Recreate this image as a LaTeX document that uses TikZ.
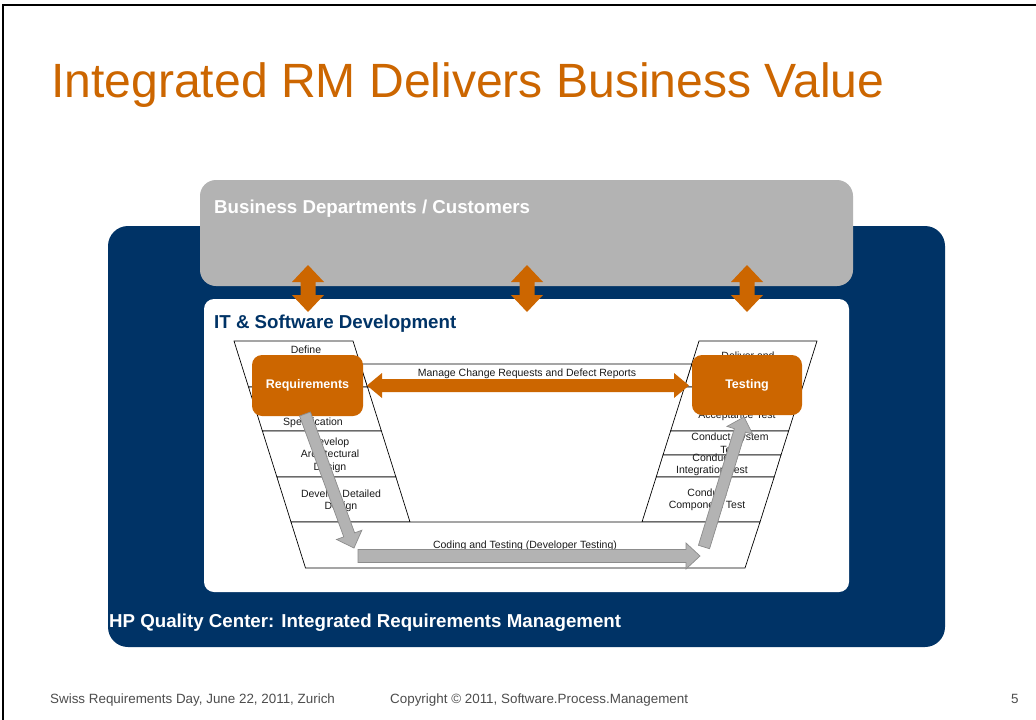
\documentclass[tikz,border=0pt]{standalone}
\usepackage{fontspec}
\setmainfont{Liberation Sans}
\usetikzlibrary{calc}
\definecolor{hporange}{HTML}{CC6600}
\definecolor{navy}{HTML}{003366}
\definecolor{lgray}{HTML}{B3B3B3}
\definecolor{dgray}{HTML}{8C8C8C}
\definecolor{foot}{HTML}{4D4D4D}
\definecolor{ink}{HTML}{1A1A1A}
\newcommand\fatarrow[6]{% style, A, B, w, h, L
  \coordinate (fa-h) at ($(#3)!#6!(#2)$);
  \draw[#1] ($(#2)!#4!90:(#3)$) -- ($(fa-h)!#4!90:(#3)$) -- ($(fa-h)!#5!90:(#3)$)
    -- (#3) -- ($(fa-h)!#5!-90:(#3)$) -- ($(fa-h)!#4!-90:(#3)$) -- ($(#2)!#4!-90:(#3)$) -- cycle;}
\newcommand\dblfatarrow[6]{% style, A, B, w, h, L
  \coordinate (fa-h1) at ($(#3)!#6!(#2)$);
  \coordinate (fa-h2) at ($(#2)!#6!(#3)$);
  \draw[#1] (#2) -- ($(fa-h2)!#5!-90:(#3)$) -- ($(fa-h2)!#4!-90:(#3)$) -- ($(fa-h1)!#4!90:(#2)$)
    -- ($(fa-h1)!#5!90:(#2)$) -- (#3) -- ($(fa-h1)!#5!-90:(#2)$) -- ($(fa-h1)!#4!-90:(#2)$)
    -- ($(fa-h2)!#4!90:(#3)$) -- ($(fa-h2)!#5!90:(#3)$) -- cycle;}
\begin{document}
\begin{tikzpicture}[x=1pt,y=-1pt,
  panel/.style={inner sep=0pt, draw=none},
  headlabel/.style={anchor=west, inner sep=0pt, font=\bfseries\fontsize{18.7}{21}\selectfont},
  rowbox/.style={draw=black, fill=white, line width=0.7pt},
  small/.style={align=center, inner sep=0pt, text=ink, font=\fontsize{10.5}{12.5}\selectfont},
  orangebox/.style={fill=hporange, draw=none, rounded corners=10pt, minimum width=111pt, minimum height=61pt, text=white, font=\bfseries\fontsize{12.5}{14}\selectfont},
  orangearrow/.style={fill=hporange, draw=none},
  grayarrow/.style={fill=lgray, draw=dgray, line width=0.7pt},
  footer/.style={anchor=base west, inner sep=0pt, text=foot, font=\fontsize{13.4}{15}\selectfont}]
\useasboundingbox (0,0) rectangle (1036,720);
\fill[white] (0,0) rectangle (1036,720);
% frame
\draw[line width=2pt] (1036,5) -- (3,5) -- (3,720);
% title
\node[anchor=base west, inner sep=0pt, text=hporange, font=\fontsize{48.1}{52}\selectfont] (title) at (51,97) {Integrated RM Delivers Business Value};
% panels
\node[panel, fill=navy, minimum width=837pt, minimum height=421pt, rounded corners=20pt] (qc) at (526.5,436.5) {};
\node[panel, fill=lgray, minimum width=653pt, minimum height=106pt, rounded corners=16pt] (biz) at (526.5,233) {};
\node[panel, fill=white, minimum width=645pt, minimum height=293pt, rounded corners=10pt] (it) at (526.5,445.5) {};
\node[headlabel, text=white] (bizlabel) at (214,209) {Business Departments / Customers};
\node[headlabel, text=navy] (itlabel) at (214,324) {IT \& Software Development};
\node[headlabel, text=white] (qclabel) at (109,623) {HP Quality Center: Integrated Requirements Management};
% vertical double arrows
\foreach \cx/\nm in {308/a,527/b,747/c}{
  \coordinate (v\nm1) at (\cx,265);
  \coordinate (v\nm2) at (\cx,312);
  \dblfatarrow{orangearrow}{v\nm1}{v\nm2}{7.5pt}{16pt}{17pt}
}
% left stack
\draw[rowbox] (234,341) -- (353,341) -- (367.5,387) -- (248.5,387) -- cycle;
\draw[rowbox] (248.5,387) -- (367.5,387) -- (381.4,431) -- (262.4,431) -- cycle;
\draw[rowbox] (262.4,431) -- (381.4,431) -- (395.9,477) -- (276.9,477) -- cycle;
\draw[rowbox] (276.9,477) -- (395.9,477) -- (410,522) -- (291,522) -- cycle;
% right stack
\draw[rowbox] (699,341) -- (817,341) -- (802.5,387) -- (684.5,387) -- cycle;
\draw[rowbox] (684.5,387) -- (802.5,387) -- (788.6,431) -- (670.6,431) -- cycle;
\draw[rowbox] (670.6,431) -- (788.6,431) -- (781,455) -- (663,455) -- cycle;
\draw[rowbox] (663,455) -- (781,455) -- (774.2,477) -- (656.2,477) -- cycle;
\draw[rowbox] (656.2,477) -- (774.2,477) -- (760,522) -- (642,522) -- cycle;
% coding box and manage box
\draw[rowbox] (291,522) -- (760,522) -- (745,568) -- (305.5,568) -- cycle;
\draw[rowbox] (360.2,364) -- (691.8,364) -- (684.5,387) -- (367.5,387) -- cycle;
% row texts
\node[small] (t1) at (306,357) {Define\\Requirements};
\node[small] (t2) at (313,417) {Requirements\\Specification};
\node[small] (t3) at (330,455) {Develop\\Architectural\\Design};
\node[small] (t4) at (341,501) {Develop Detailed\\Design};
\node[small] (t5) at (525,546) {Coding and Testing (Developer Testing)};
\node[small] (t6) at (527,374) {Manage Change Requests and Defect Reports};
\node[small] (r1) at (748,362) {Deliver and\\Install};
\node[small] (r2) at (737,410) {Conduct\\Acceptance Test};
\node[small] (r3) at (730,443) {Conduct System\\Test};
\node[small] (r4) at (712,465) {Conduct\\Integration Test};
\node[small] (r5) at (707,500) {Conduct\\Component Test};
% orange boxes
\node[orangebox] (req) at (307.5,385.5) {Requirements};
\node[orangebox, minimum width=110pt, minimum height=60pt] (test) at (747,385) {Testing};
% horizontal orange double arrow
\coordinate (m1) at (367,385.5);
\coordinate (m2) at (689,385.5);
\dblfatarrow{orangearrow}{m1}{m2}{6.5pt}{12.5pt}{15pt}
% gray arrows
\coordinate (g1a) at (305,414);
\coordinate (g1b) at (354,548);
\fatarrow{grayarrow}{g1a}{g1b}{5.8pt}{13.5pt}{14pt}
\coordinate (g2a) at (358,556);
\coordinate (g2b) at (700,556);
\fatarrow{grayarrow}{g2a}{g2b}{6.5pt}{13pt}{14pt}
\coordinate (g3a) at (704,547);
\coordinate (g3b) at (744,417);
\fatarrow{grayarrow}{g3a}{g3b}{5.8pt}{13.5pt}{14pt}
% footer
\node[footer] (f1) at (50,703) {Swiss Requirements Day, June 22, 2011, Zurich};
\node[footer] (f2) at (390,703) {Copyright © 2011, Software.Process.Management};
\node[footer] (f3) at (1011,703) {5};
\end{tikzpicture}
\end{document}
